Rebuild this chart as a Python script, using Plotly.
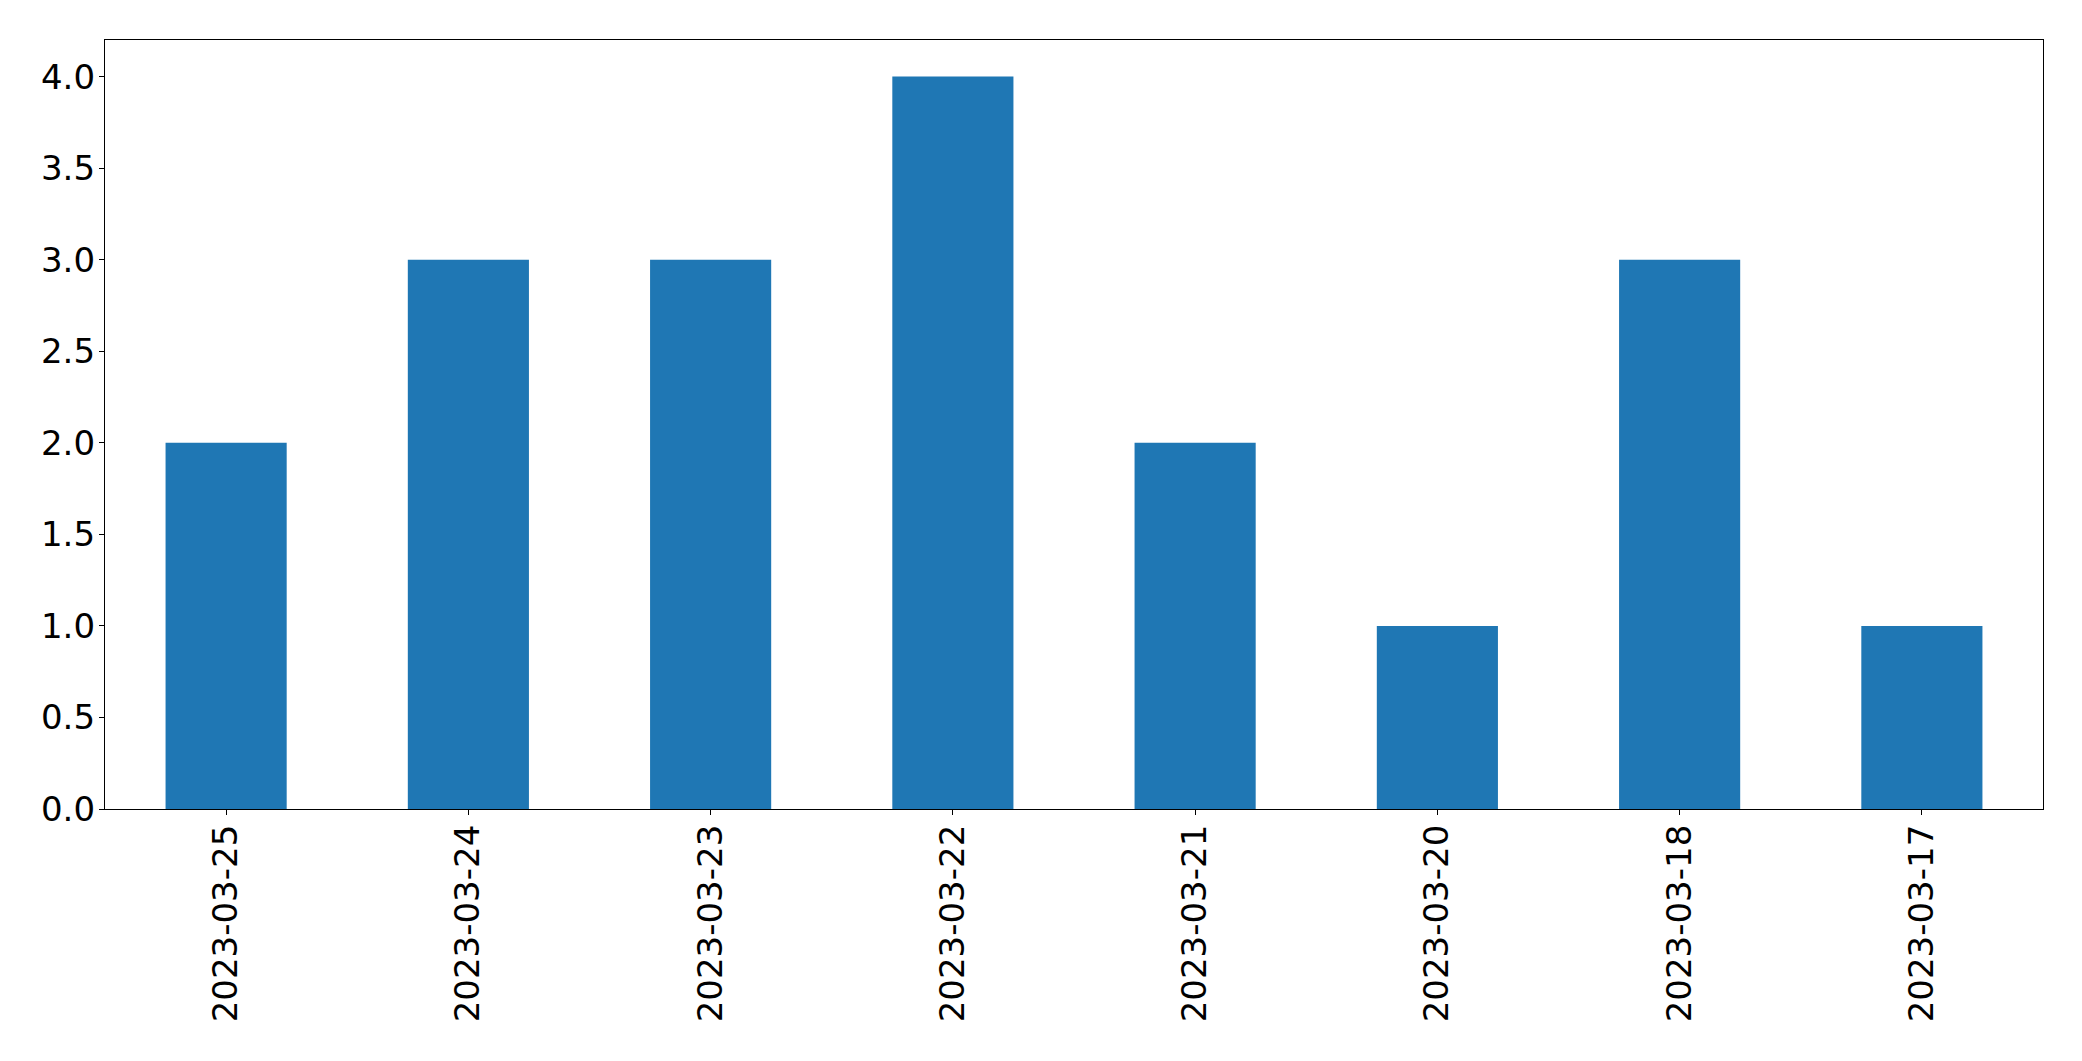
import plotly.graph_objects as go

dates = ["2023-03-25", "2023-03-24", "2023-03-23", "2023-03-22",
         "2023-03-21", "2023-03-20", "2023-03-18", "2023-03-17"]
counts = [2, 3, 3, 4, 2, 1, 3, 1]
y_ticks = [0.0, 0.5, 1.0, 1.5, 2.0, 2.5, 3.0, 3.5, 4.0]

fig = go.Figure(go.Bar(x=dates, y=counts, marker=dict(color="#1f77b4", line=dict(width=0))))

font = dict(family="DejaVu Sans", size=34, color="black")
fig.update_layout(
    width=2082, height=1061,
    margin=dict(l=97, r=47, t=32, b=260),
    paper_bgcolor="white", plot_bgcolor="white",
    bargap=0.5, showlegend=False,
    font=font,
)
fig.update_xaxes(
    type="category", range=[-0.5, 7.5], tickangle=-90,
    showline=True, linecolor="black", linewidth=1.3, mirror=True,
    ticks="outside", ticklen=5, tickwidth=1.3, tickcolor="black",
    showgrid=False, tickfont=font, ticklabelstandoff=-4,
)
fig.update_yaxes(
    range=[0, 4.2], tickvals=y_ticks, ticktext=[f"{v:.1f}" for v in y_ticks],
    showline=True, linecolor="black", linewidth=1.3, mirror=True,
    ticks="outside", ticklen=5, tickwidth=1.3, tickcolor="black",
    showgrid=False, zeroline=False, tickfont=font, ticklabelstandoff=-3,
)
fig.write_html("out.html")
